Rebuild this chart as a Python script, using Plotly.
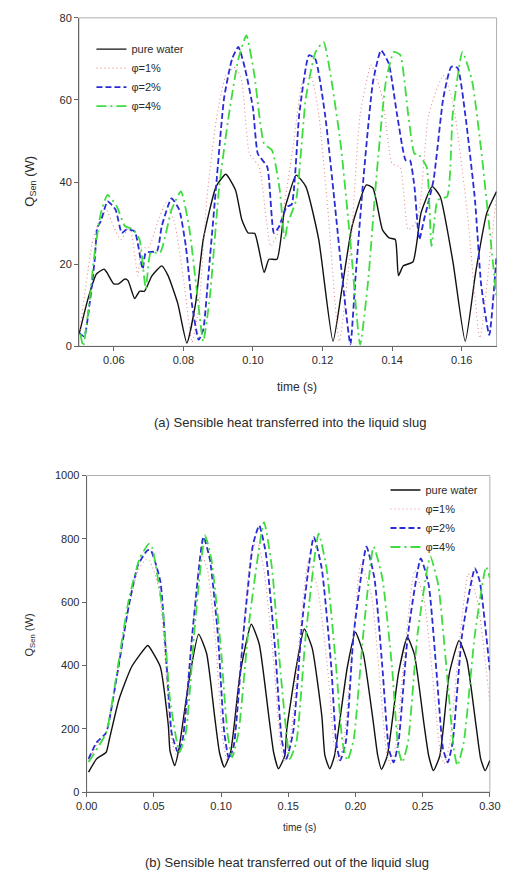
import plotly.graph_objects as go

# ---------------- (a) Sensible heat transferred into the liquid slug ----------------
ta_water = [0.0501,0.0526,0.0550,0.0572,0.0580,0.0600,0.0614,0.0632,0.0641,0.0660,0.0674,0.0688,0.0710,0.0738,0.0756,0.0784,0.0810,0.0835,0.0857,0.0894,0.0922,0.0950,0.0968,0.0986,0.1005,0.1032,0.1046,0.1069,0.1090,0.1100,0.1124,0.1152,0.1189,0.1230,0.1257,0.1285,0.1326,0.1345,0.1372,0.1391,0.1409,0.1418,0.1432,0.1460,0.1483,0.1515,0.1538,0.1575,0.1610,0.1640,0.1672,0.1700]
qa_water = [3.2,11.6,17.6,18.8,18.0,15.2,15.2,16.4,16.0,11.6,13.4,13.4,17.2,19.6,17.2,10.4,0.8,10.4,26.0,38.9,41.9,38.0,30.8,27.6,27.5,18.0,21.2,21.2,33.0,36.0,41.7,38.9,26.0,1.2,14.8,29.3,39.3,38.5,28.4,26.4,26.0,17.2,19.6,20.6,32.5,38.9,36.5,20.4,1.2,18.0,32.5,37.7]

ta_p1 = [0.0501,0.0520,0.0540,0.0560,0.0580,0.0600,0.0620,0.0646,0.0669,0.0680,0.0700,0.0725,0.0750,0.0775,0.0801,0.0825,0.0845,0.0867,0.0894,0.0922,0.0950,0.0968,0.0990,0.1018,0.1051,0.1078,0.1115,0.1143,0.1166,0.1189,0.1216,0.1248,0.1281,0.1308,0.1340,0.1372,0.1400,0.1423,0.1446,0.1473,0.1505,0.1547,0.1574,0.1616,0.1652,0.1684,0.1700]
qa_p1 = [3,15,26,31,33,29,26,29,17.2,24,24,30,35,30,16,1,10,35.6,54.9,66,68,64.5,46.9,43.7,24.4,29,48.5,64.5,66,56.5,32.5,1.2,24.4,56.5,68.5,60.5,44.5,43.7,28.4,30.8,56.5,66,59.7,32.5,2,24.4,37]

ta_p2 = [0.0501,0.0515,0.0530,0.0545,0.0553,0.0563,0.0582,0.0605,0.0623,0.0637,0.0660,0.0683,0.0692,0.0724,0.0738,0.0766,0.0788,0.0807,0.0825,0.0844,0.0857,0.0871,0.0894,0.0917,0.0940,0.0958,0.0977,0.1000,0.1014,0.1041,0.1060,0.1074,0.1097,0.1111,0.1133,0.1161,0.1179,0.1207,0.1234,0.1257,0.1280,0.1294,0.1317,0.1345,0.1368,0.1390,0.1414,0.1439,0.1451,0.1464,0.1478,0.1492,0.1519,0.1547,0.1570,0.1588,0.1610,0.1638,0.1656,0.1679,0.1700]
qa_p2 = [3.2,2.4,10,21,29,30.5,35.3,33.3,27.6,28.5,28,18.8,22.8,23.2,29.3,36,33.3,24.4,10,1.6,4,16.4,38.9,60.5,70,72.9,67.7,58,46.9,43.7,27.6,29,34,34.5,56.5,70.9,70,56.5,35.6,16.4,0.5,16,40.5,64.5,72.1,68.9,56.5,45.3,45.3,38.9,26,31,40.5,60.5,68.1,67.8,56.5,35.6,14.8,2.8,22]

ta_p4 = [0.0504,0.0512,0.0526,0.0545,0.0563,0.0582,0.0609,0.0632,0.0655,0.0674,0.0692,0.0706,0.0733,0.0766,0.0793,0.0816,0.0839,0.0857,0.0876,0.0903,0.0931,0.0958,0.0981,0.1004,0.1032,0.1055,0.1077,0.1091,0.1100,0.1124,0.1152,0.1180,0.1203,0.1226,0.1253,0.1281,0.1308,0.1331,0.1354,0.1382,0.1405,0.1423,0.1446,0.1464,0.1473,0.1499,0.1513,0.1531,0.1558,0.1574,0.1602,0.1630,0.1657,0.1680,0.1700]
qa_p4 = [3,0,8,22.8,32.5,36.9,34,29.3,28.5,26,14,22.8,22.8,33.3,37.7,29.3,13.2,1.2,12,38.9,56.5,70,75.7,66.1,49.3,47.7,38,26,30,35.6,60.5,71.7,74.1,64.5,48.5,24.4,0.4,16,40.5,64.5,71.7,71,56.5,46.9,47,43.7,24.4,35.6,36.5,56.5,71.7,64.5,46.9,28.4,11.6]

# ---------------- (b) Sensible heat transferred out of the liquid slug ----------------
tb_water = [0.0014,0.0074,0.0145,0.0169,0.0240,0.0335,0.0453,0.0464,0.0548,0.0608,0.0620,0.0655,0.0684,0.0762,0.0833,0.0893,0.0952,0.0988,0.1024,0.1071,0.1142,0.1225,0.1284,0.1355,0.1391,0.1427,0.1474,0.1489,0.1560,0.1619,0.1678,0.1750,0.1773,0.1809,0.1844,0.1940,0.2000,0.2059,0.2130,0.2166,0.2194,0.2237,0.2320,0.2386,0.2438,0.2509,0.2545,0.2580,0.2628,0.2699,0.2771,0.2830,0.2901,0.2932,0.2965,0.3000]
qb_water = [63,105,126,167,292,396,463,460,396,209,131,84,130,354,499,437,240,126,79,126,375,530,468,240,126,74,115,198,396,515,455,240,115,74,115,396,505,436,230,115,72,115,375,489,436,218,115,68,115,375,479,415,198,105,68,100]

tb_p1 = [0.0014,0.0074,0.0145,0.0216,0.0311,0.0382,0.0440,0.0470,0.0540,0.0590,0.0625,0.0665,0.0705,0.0780,0.0850,0.0900,0.0960,0.1010,0.1045,0.1085,0.1160,0.1230,0.1270,0.1320,0.1390,0.1440,0.1470,0.1520,0.1590,0.1650,0.1720,0.1800,0.1840,0.1870,0.1910,0.1980,0.2040,0.2120,0.2180,0.2230,0.2260,0.2300,0.2370,0.2440,0.2510,0.2580,0.2630,0.2660,0.2700,0.2770,0.2840,0.2910,0.3000]
qb_p1 = [100,150,185,340,575,700,735,730,640,380,180,120,160,480,755,700,470,180,100,140,480,770,790,700,420,160,95,180,520,730,640,360,150,95,150,470,720,620,360,130,90,150,460,700,610,340,130,90,150,460,690,600,280]

tb_p2 = [0.0014,0.0074,0.0145,0.0216,0.0311,0.0382,0.0453,0.0477,0.0548,0.0596,0.0632,0.0679,0.0715,0.0786,0.0869,0.0917,0.0976,0.1024,0.1059,0.1095,0.1166,0.1237,0.1284,0.1332,0.1403,0.1451,0.1486,0.1536,0.1607,0.1690,0.1749,0.1820,0.1857,0.1887,0.1928,0.1987,0.2082,0.2141,0.2200,0.2249,0.2284,0.2320,0.2391,0.2486,0.2545,0.2604,0.2652,0.2687,0.2723,0.2794,0.2889,0.2925,0.3000]
qb_p2 = [105,157,188,344,583,717,764,764,666,396,188,126,167,499,806,735,499,188,105,147,499,780,842,758,448,167,105,188,551,806,707,396,157,100,157,499,775,676,396,136,94,157,499,738,655,375,136,94,157,499,707,665,385]

tb_p4 = [0.0014,0.0145,0.0216,0.0311,0.0394,0.0465,0.0489,0.0572,0.0620,0.0691,0.0738,0.0810,0.0881,0.0928,0.1000,0.1047,0.1083,0.1130,0.1213,0.1320,0.1379,0.1439,0.1486,0.1512,0.1560,0.1631,0.1726,0.1785,0.1856,0.1904,0.1940,0.1987,0.2058,0.2135,0.2200,0.2272,0.2319,0.2348,0.2391,0.2462,0.2557,0.2616,0.2687,0.2735,0.2759,0.2806,0.2889,0.2972,0.3000]
qb_p4 = [95,188,354,603,738,785,770,551,292,126,188,551,811,735,448,188,110,188,551,853,707,396,188,105,157,499,816,707,396,157,100,167,499,775,676,396,136,94,157,499,744,655,344,126,84,157,499,712,676]

series_names = ["pure water", "\u03c6=1%", "\u03c6=2%", "\u03c6=4%"]

xticks_a = [0.06, 0.08, 0.10, 0.12, 0.14, 0.16]
yticks_a = [0, 20, 40, 60, 80]
xticks_b = [0.00, 0.05, 0.10, 0.15, 0.20, 0.25, 0.30]
yticks_b = [0, 200, 400, 600, 800, 1000]

caption_a = "(a) Sensible heat transferred into the liquid slug"
caption_b = "(b) Sensible heat transferred out of the liquid slug"

FONT = "Arial, Liberation Sans, sans-serif"
TXT = "#2a2a2a"

styles = [
    dict(color="#111111", width=1.4, dash="solid"),
    dict(color="#e88a8a", width=1.1, dash="1px,3px"),
    dict(color="#2b2bd6", width=1.8, dash="6px,3px"),
    dict(color="#3edc3e", width=1.8, dash="10px,4px,2px,4px"),
]

fig = go.Figure()
data_a = [(ta_water, qa_water), (ta_p1, qa_p1), (ta_p2, qa_p2), (ta_p4, qa_p4)]
data_b = [(tb_water, qb_water), (tb_p1, qb_p1), (tb_p2, qb_p2), (tb_p4, qb_p4)]

for i, (x, y) in enumerate(data_a):
    fig.add_trace(go.Scatter(x=x, y=y, mode="lines", name=series_names[i],
                             line=dict(shape="spline", smoothing=0.5, **styles[i]),
                             xaxis="x", yaxis="y", legend="legend"))
for i, (x, y) in enumerate(data_b):
    fig.add_trace(go.Scatter(x=x, y=y, mode="lines", name=series_names[i],
                             line=dict(shape="spline", smoothing=0.5, **styles[i]),
                             xaxis="x2", yaxis="y2", legend="legend2"))

# the page's default body margin is removed in post_script, so figure px == page px
W, H = 520, 880
def px_x(p): return p / W
def px_y(p): return 1 - p / H

axis_common = dict(showgrid=False, zeroline=False, showline=True, linecolor="#666666",
                   linewidth=1, mirror=False, ticks="outside", ticklen=4, tickcolor="#666666",
                   tickfont=dict(family=FONT, size=11, color=TXT))

fig.update_layout(
    width=W, height=H, margin=dict(l=0, r=0, t=0, b=0),
    paper_bgcolor="white", plot_bgcolor="white",
    xaxis=dict(domain=[px_x(71), px_x(507)], range=[0.05, 0.17], tickvals=xticks_a,
               tickformat=".2f", anchor="y", **axis_common),
    yaxis=dict(domain=[px_y(345), px_y(12)], range=[0, 80], tickvals=yticks_a,
               anchor="x", **axis_common),
    xaxis2=dict(domain=[px_x(79), px_x(500)], range=[0, 0.30], tickvals=xticks_b,
                tickformat=".2f", anchor="y2", **axis_common),
    yaxis2=dict(domain=[px_y(797), px_y(476)], range=[0, 1000], tickvals=yticks_b,
                anchor="x2", **axis_common),
    legend=dict(x=px_x(84), y=px_y(29), xanchor="left", yanchor="top",
                bgcolor="rgba(0,0,0,0)", font=dict(family=FONT, size=11, color=TXT),
                itemwidth=30, tracegroupgap=0),
    legend2=dict(x=px_x(391), y=px_y(476), xanchor="left", yanchor="top",
                 bgcolor="rgba(0,0,0,0)", font=dict(family=FONT, size=11, color=TXT),
                 itemwidth=30, tracegroupgap=0),
    showlegend=True,
)

# light frame on top/right of each plot
for xr, yr in [("x", "y"), ("x2", "y2")]:
    fig.add_shape(type="rect", xref=f"{xr} domain", yref=f"{yr} domain",
                  x0=0, x1=1, y0=0, y1=1, line=dict(color="#b0b0b0", width=1), layer="below")

ann = [
    dict(text="Q<sub>Sen</sub> (W)", x=px_x(20), y=px_y(178), textangle=-90, size=13),
    dict(text="time (s)", x=px_x(299), y=px_y(386), textangle=0, size=12),
    dict(text=caption_a, x=px_x(291), y=px_y(422), textangle=0, size=13),
    dict(text="Q<sub>Sen</sub> (W)", x=px_x(20), y=px_y(638), textangle=-90, size=11),
    dict(text="time (s)", x=px_x(301), y=px_y(833), textangle=0, size=10),
    dict(text=caption_b, x=px_x(288), y=px_y(868), textangle=0, size=13),
]
for a in ann:
    fig.add_annotation(text=a["text"], x=a["x"], y=a["y"], xref="paper", yref="paper",
                       showarrow=False, textangle=a["textangle"], xanchor="center", yanchor="middle",
                       font=dict(family=FONT, size=a["size"], color=TXT))

fig.write_html("out.html", config={"displayModeBar": False},
               post_script="document.body.style.margin='0';document.body.style.overflow='hidden';")
